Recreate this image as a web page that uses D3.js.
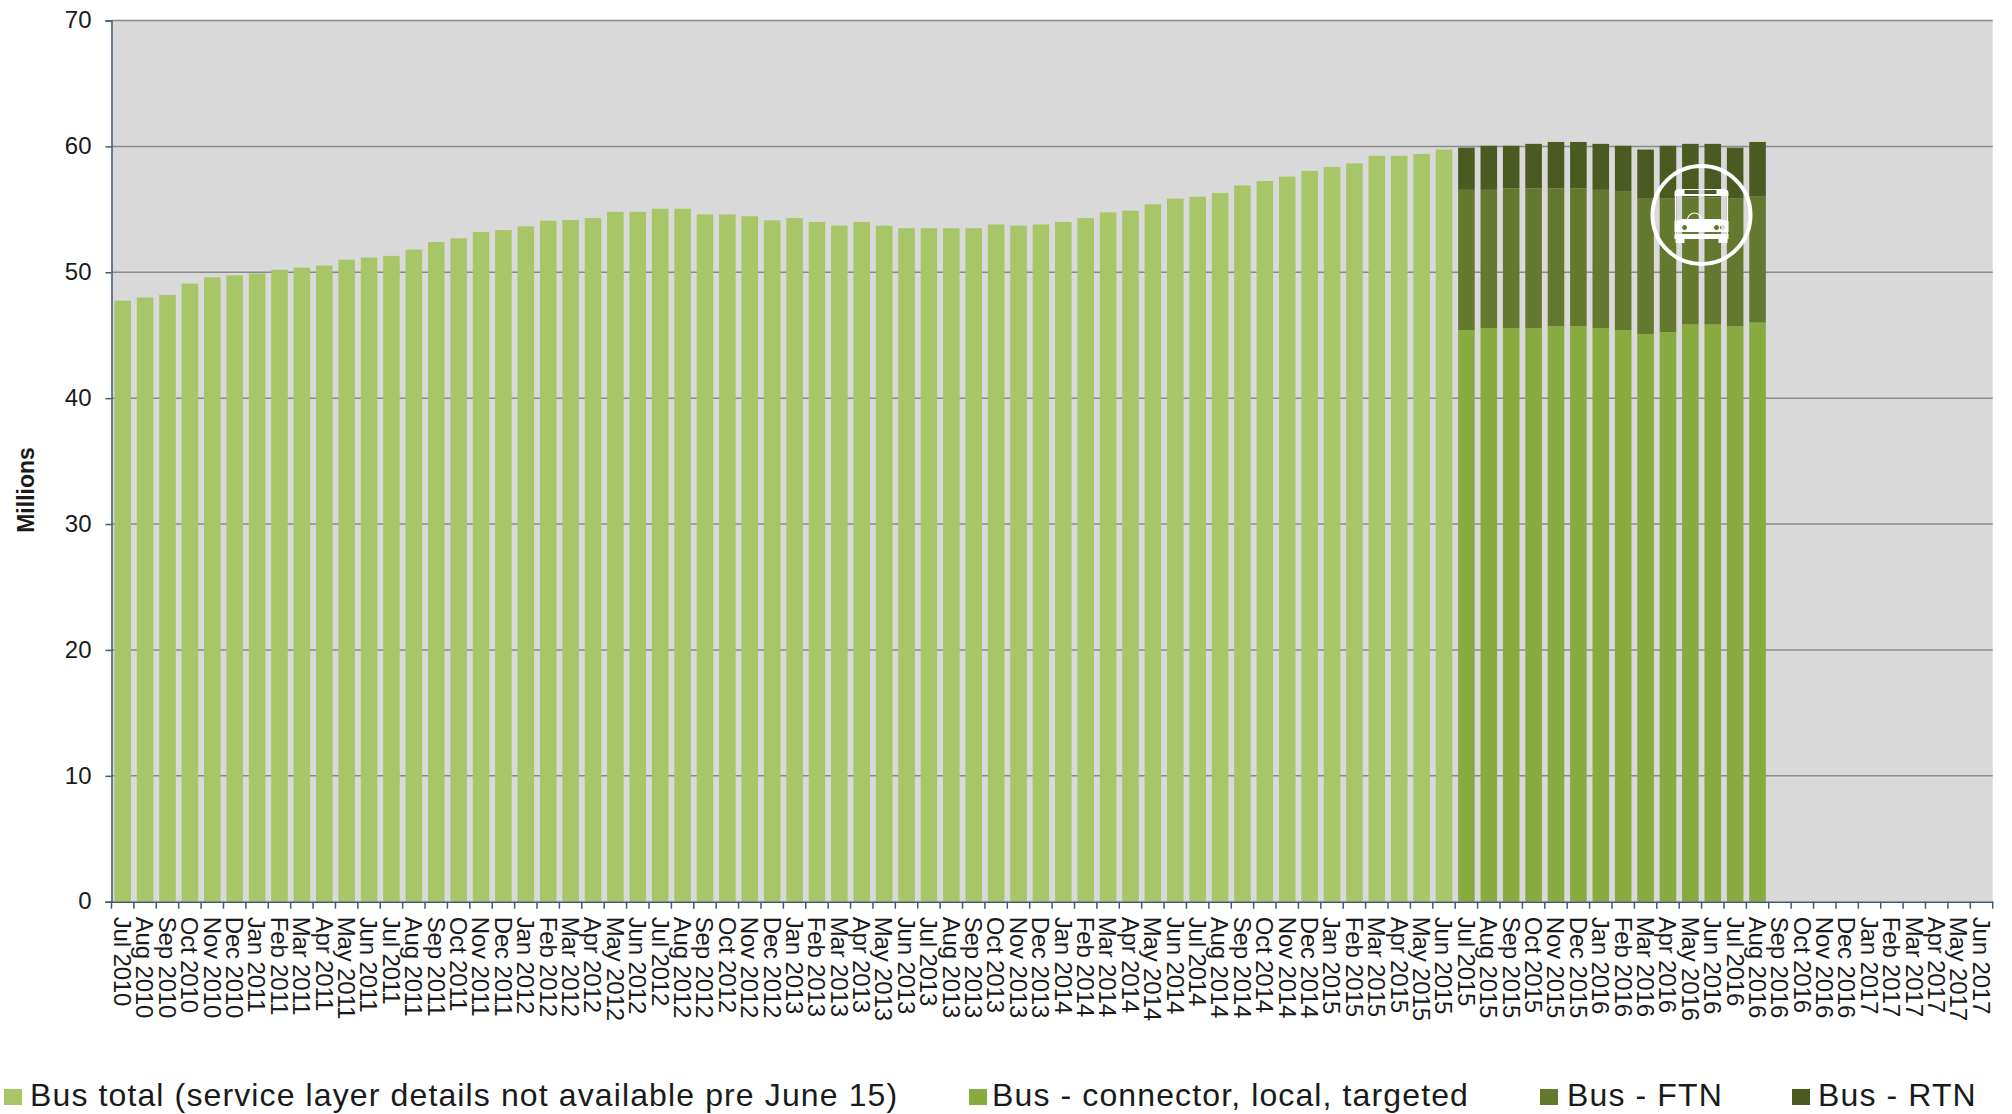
<!DOCTYPE html>
<html>
<head>
<meta charset="utf-8">
<script src="https://cdnjs.cloudflare.com/ajax/libs/d3/7.8.5/d3.min.js"></script>
<style>
  html, body { margin: 0; padding: 0; background: #fff; }
  svg { display: block; }
  text { font-family: "Liberation Sans", Arial, sans-serif; fill: #1a1a1a; }
</style>
</head>
<body>
<svg id="chart" width="2012" height="1114"></svg>
<script>
// Monthly boardings, in millions.
const monthNames = ["Jan","Feb","Mar","Apr","May","Jun","Jul","Aug","Sep","Oct","Nov","Dec"];
const months = [];
for (let i = 0; i < 84; i++) {
  const m = (6 + i) % 12, y = 2010 + Math.floor((6 + i) / 12);
  months.push(monthNames[m] + " " + y);
}

const busTotal = [
  47.75, 48.0, 48.2, 49.1, 49.6, 49.75, 49.9, 50.2, 50.37, 50.53, 51.0, 51.17,
  51.3, 51.8, 52.4, 52.7, 53.2, 53.35, 53.65, 54.1, 54.15, 54.3, 54.8, 54.8,
  55.05, 55.05, 54.6, 54.6, 54.45, 54.13, 54.3, 54.0, 53.7, 54.0, 53.7, 53.5,
  53.5, 53.5, 53.5, 53.8, 53.7, 53.8, 54.0, 54.3, 54.76, 54.9, 55.4, 55.85,
  56.0, 56.3, 56.9, 57.25, 57.6, 58.05, 58.35, 58.65, 59.25, 59.25, 59.4, 59.75
];
const busConnector = [45.4, 45.55, 45.55, 45.55, 45.7, 45.7, 45.55, 45.4, 45.1, 45.25, 45.85, 45.85, 45.7, 46.0];
const busFtn = [11.15, 11.0, 11.12, 11.12, 10.97, 10.97, 11.0, 11.0, 10.8, 10.6, 10.1, 10.1, 10.15, 10.05];
const busRtn = [3.35, 3.5, 3.38, 3.53, 3.68, 3.68, 3.65, 3.65, 3.85, 4.2, 4.25, 4.25, 4.05, 4.3];

const yTicks = [0, 10, 20, 30, 40, 50, 60, 70];
const seriesKeys = ["total", "connector", "ftn", "rtn"];
const seriesColors = ["#a8c568", "#88aa3f", "#64792d", "#4a5a21"];
const legendLabels = [
  "Bus total (service layer details not available pre June 15)",
  "Bus - connector, local, targeted",
  "Bus - FTN",
  "Bus - RTN"
];

const rows = months.map((month, i) => {
  const j = i - busTotal.length;
  return {
    month,
    total: busTotal[i] || 0,
    connector: busConnector[j] || 0,
    ftn: busFtn[j] || 0,
    rtn: busRtn[j] || 0
  };
});

const plot = { left: 111.5, right: 1992.7, top: 20.5, bottom: 901.7 };
const x = d3.scaleBand().domain(months).range([plot.left, plot.right]).paddingInner(0.26).paddingOuter(0.13);
const y = d3.scaleLinear().domain([0, 70]).range([plot.bottom, plot.top]);
const color = d3.scaleOrdinal(seriesKeys, seriesColors);
const svg = d3.select("#chart");

// Plot background and horizontal gridlines
svg.append("rect")
  .attr("x", plot.left).attr("y", plot.top)
  .attr("width", plot.right - plot.left).attr("height", plot.bottom - plot.top)
  .attr("fill", "#d9d9d9");

svg.append("g").selectAll("line")
  .data(yTicks.filter(d => d > 0))
  .join("line")
  .attr("x1", plot.left).attr("x2", plot.right)
  .attr("y1", d => y(d)).attr("y2", d => y(d))
  .attr("stroke", "#8b8b8b").attr("stroke-width", 1.5);

// Stacked columns
const stacked = d3.stack().keys(seriesKeys)(rows);
svg.append("g").selectAll("g")
  .data(stacked)
  .join("g")
  .attr("fill", s => color(s.key))
  .selectAll("rect")
  .data(s => s.filter(p => p[1] > p[0]))
  .join("rect")
  .attr("x", p => x(p.data.month))
  .attr("width", x.bandwidth())
  .attr("y", p => y(p[1]))
  .attr("height", p => y(p[0]) - y(p[1]));

// Vertical axis
const axisColor = "#3f5877";
const yAxis = svg.append("g")
  .attr("transform", `translate(${plot.left},0)`)
  .call(d3.axisLeft(y).tickValues(yTicks).tickSize(6).tickPadding(14));
yAxis.selectAll("path, line").attr("stroke", axisColor).attr("stroke-width", 1.5);
yAxis.selectAll("text")
  .attr("font-size", 24).attr("font-family", '"Liberation Sans"').attr("fill", "#1a1a1a")
  .attr("dy", "0.3em");

// Horizontal axis: ticks sit on the month boundaries, labels in the month centres
const xEdges = d3.scaleLinear().domain([0, months.length]).range([plot.left, plot.right]);
svg.append("g").selectAll("line")
  .data(d3.range(months.length + 1))
  .join("line")
  .attr("x1", d => xEdges(d)).attr("x2", d => xEdges(d))
  .attr("y1", plot.bottom).attr("y2", plot.bottom + 7)
  .attr("stroke", axisColor).attr("stroke-width", 1.5);

const xAxis = svg.append("g")
  .attr("transform", `translate(0,${plot.bottom})`)
  .call(d3.axisBottom(x).tickSize(0).tickPadding(0));
xAxis.select("path").attr("stroke", axisColor).attr("stroke-width", 1.5);
xAxis.selectAll("text")
  .attr("transform", "translate(0,15) rotate(90)")
  .attr("x", 0).attr("y", 0).attr("dy", "0.36em")
  .attr("text-anchor", "start")
  .attr("font-size", 24)
  .attr("letter-spacing", -0.15)
  .attr("font-family", '"Liberation Sans"').attr("fill", "#1a1a1a");

// Axis title
svg.append("text")
  .attr("transform", "translate(34,490) rotate(-90)")
  .attr("text-anchor", "middle")
  .attr("font-size", 23)
  .attr("font-weight", "bold")
  .text("Millions");

// Legend
const legendX = [4, 969, 1540, 1792];
const legendTextX = [30, 992, 1567, 1818];
const legend = svg.append("g").selectAll("g")
  .data(seriesKeys)
  .join("g");
legend.append("rect")
  .attr("x", (d, i) => legendX[i]).attr("y", 1089)
  .attr("width", 18).attr("height", 16)
  .attr("fill", d => color(d));
legend.append("text")
  .attr("x", (d, i) => legendTextX[i]).attr("y", 1106)
  .attr("font-size", 32)
  .attr("letter-spacing", 1.12)
  .text((d, i) => legendLabels[i]);

// Bus badge over the recent columns
const badge = svg.append("g").attr("transform", "translate(1701.5,215)");
badge.append("circle").attr("r", 49).attr("fill", "none").attr("stroke", "#fff").attr("stroke-width", 4);
badge.append("path")
  .attr("fill", "none").attr("stroke", "#fff").attr("stroke-width", 1.2)
  .attr("d", "M-26,-20V20M26,-20V20M-14,5a7,7 0 0,1 14,0");
badge.append("path")
  .attr("fill", "#fff")
  .attr("fill-rule", "evenodd")
  .attr("d", "M-22,-26H22Q27,-26 27,-22V-19H-27V-22Q-27,-26 -22,-26ZM-17,-25V-21H15V-25Z");
badge.append("path")
  .attr("fill", "#fff")
  .attr("fill-rule", "evenodd")
  .attr("d", "M-27,6L-18,4H18L27,6V17H-27ZM-17,10a2.5,2.5 0 1,0 0.01,0ZM15,10a2.5,2.5 0 1,0 0.01,0ZM21,10a2.5,2.5 0 1,0 0.01,0Z");
badge.append("rect").attr("x", -27).attr("y", 19).attr("width", 54).attr("height", 5).attr("fill", "#fff");
badge.append("rect").attr("x", -26).attr("y", 24).attr("width", 9).attr("height", 4).attr("fill", "#fff");
badge.append("rect").attr("x", 17).attr("y", 24).attr("width", 9).attr("height", 4).attr("fill", "#fff");
</script>
</body>
</html>
